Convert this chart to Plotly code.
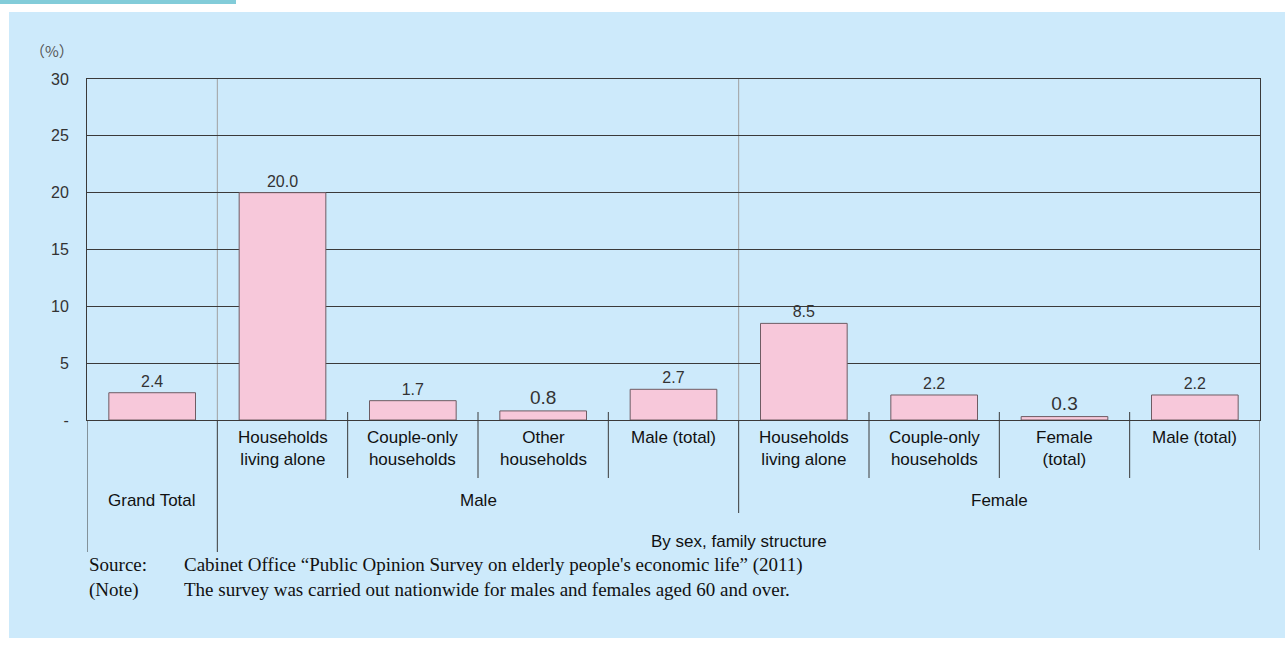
import plotly.graph_objects as go

# Share of people aged 60+ (%) by sex and family structure
categories = [
    "Grand Total",
    "Households<br>living alone",
    "Couple-only<br>households",
    "Other<br>households",
    "Male (total)",
    "Households<br>living alone",
    "Couple-only<br>households",
    "Female<br>(total)",
    "Male (total)",
]
values = [2.4, 20.0, 1.7, 0.8, 2.7, 8.5, 2.2, 0.3, 2.2]
label_sizes = [16, 16, 16, 19, 16, 16, 16, 19, 16]

y_ticks = [0, 5, 10, 15, 20, 25, 30]
y_tick_text = ["-", "5", "10", "15", "20", "25", "30"]

groups = [("Male", 2.5), ("Female", 6.5)]

note_heads = ["Source:", "(Note)"]
note_bodies = [
    "Cabinet Office \u201cPublic Opinion Survey on elderly people's economic life\u201d (2011)",
    "The survey was carried out nationwide for males and females aged 60 and over.",
]

W, H = 1285, 648
L, R, T, B = 87, 1260, 79, 420   # plot-area pixel box


def px(x):
    return (x - L) / (R - L)


def py(y):
    return (B - y) / (B - T)


SANS = "Arial, Liberation Sans, Helvetica, sans-serif"
SERIF = "Times New Roman, Liberation Serif, serif"

xs = list(range(len(values)))

fig = go.Figure(
    go.Bar(
        x=xs,
        y=values,
        width=0.665,
        marker=dict(color="#f7c8da", line=dict(color="#6e5c63", width=1)),
        text=[f"{v:.1f}" for v in values],
        textposition="outside",
        textfont=dict(family=SANS, size=label_sizes, color="#333333"),
        cliponaxis=False,
        hoverinfo="skip",
    )
)

shapes = [
    # light blue panel and header strip
    dict(type="rect", xref="paper", yref="paper", x0=px(9), x1=px(1285), y0=py(638), y1=py(12),
         fillcolor="#cdeafb", line=dict(width=0), layer="below"),
    dict(type="rect", xref="paper", yref="paper", x0=px(0), x1=px(236), y0=py(4), y1=py(0),
         fillcolor="#82ccd9", line=dict(width=0), layer="below"),
]

# thin grey separators inside the plot
for xv in (0.5, 4.5):
    shapes.append(dict(type="line", xref="x", yref="paper", x0=xv, x1=xv, y0=0, y1=1,
                       line=dict(color="#a0a0a0", width=1), layer="below"))

# separators below the axis
for xv, bottom in ((-0.5, 552), (0.5, 552), (8.5, 550), (4.5, 513)):
    shapes.append(dict(type="line", xref="x", yref="paper", x0=xv, x1=xv, y0=0, y1=py(bottom),
                       line=dict(color="#3a3a3a", width=1)))
for xv in (1.5, 2.5, 3.5, 5.5, 6.5, 7.5):
    shapes.append(dict(type="line", xref="x", yref="paper", x0=xv, x1=xv, y0=py(412), y1=py(478),
                       line=dict(color="#3a3a3a", width=1)))

LABEL_FONT = dict(family=SANS, size=17, color="#111111")

annotations = []
for i, c in enumerate(categories):
    if i == 0:
        continue
    annotations.append(dict(x=i, xref="x", y=py(426), yref="paper", text=c, showarrow=False,
                            xanchor="center", yanchor="top", font=LABEL_FONT))
annotations.append(dict(x=0, xref="x", y=py(500), yref="paper", text=categories[0], showarrow=False,
                        xanchor="center", yanchor="middle", font=LABEL_FONT))
for name, xc in groups:
    annotations.append(dict(x=xc, xref="x", y=py(500), yref="paper", text=name, showarrow=False,
                            xanchor="center", yanchor="middle", font=LABEL_FONT))
annotations.append(dict(x=4.5, xref="x", y=py(541), yref="paper", text="By sex, family structure",
                        showarrow=False, xanchor="center", yanchor="middle", font=LABEL_FONT))
annotations.append(dict(x=px(52), xref="paper", y=py(50), yref="paper", text="\uff08%\uff09",
                        showarrow=False, xanchor="center", yanchor="middle",
                        font=dict(family="Noto Sans CJK JP", size=15, color="#555555")))

NOTE_FONT = dict(family=SERIF, size=19, color="#111111")
annotations.append(dict(x=px(87), xref="paper", y=py(577), yref="paper", text="<br>".join(note_heads),
                        showarrow=False, xanchor="left", yanchor="middle", align="left", font=NOTE_FONT))
annotations.append(dict(x=px(182), xref="paper", y=py(577), yref="paper", text="<br>".join(note_bodies),
                        showarrow=False, xanchor="left", yanchor="middle", align="left", font=NOTE_FONT))

fig.update_layout(
    width=W, height=H,
    margin=dict(l=L, r=W - R, t=T, b=H - B, pad=0),
    paper_bgcolor="white",
    plot_bgcolor="white",
    showlegend=False,
    shapes=shapes,
    annotations=annotations,
    xaxis=dict(range=[-0.5, 8.5], showticklabels=False, showgrid=False, zeroline=False,
               showline=True, mirror=True, linecolor="#3a3a3a", linewidth=1, ticks="", fixedrange=True),
    yaxis=dict(range=[0, 30], tickvals=y_ticks, ticktext=y_tick_text, showgrid=True,
               gridcolor="#3a3a3a", gridwidth=1, zeroline=False, showline=True, mirror=True,
               linecolor="#3a3a3a", linewidth=1, ticks="", ticklabelstandoff=14,
               tickfont=dict(family=SANS, size=16, color="#333333"), fixedrange=True),
)

fig.write_html("out.html")
